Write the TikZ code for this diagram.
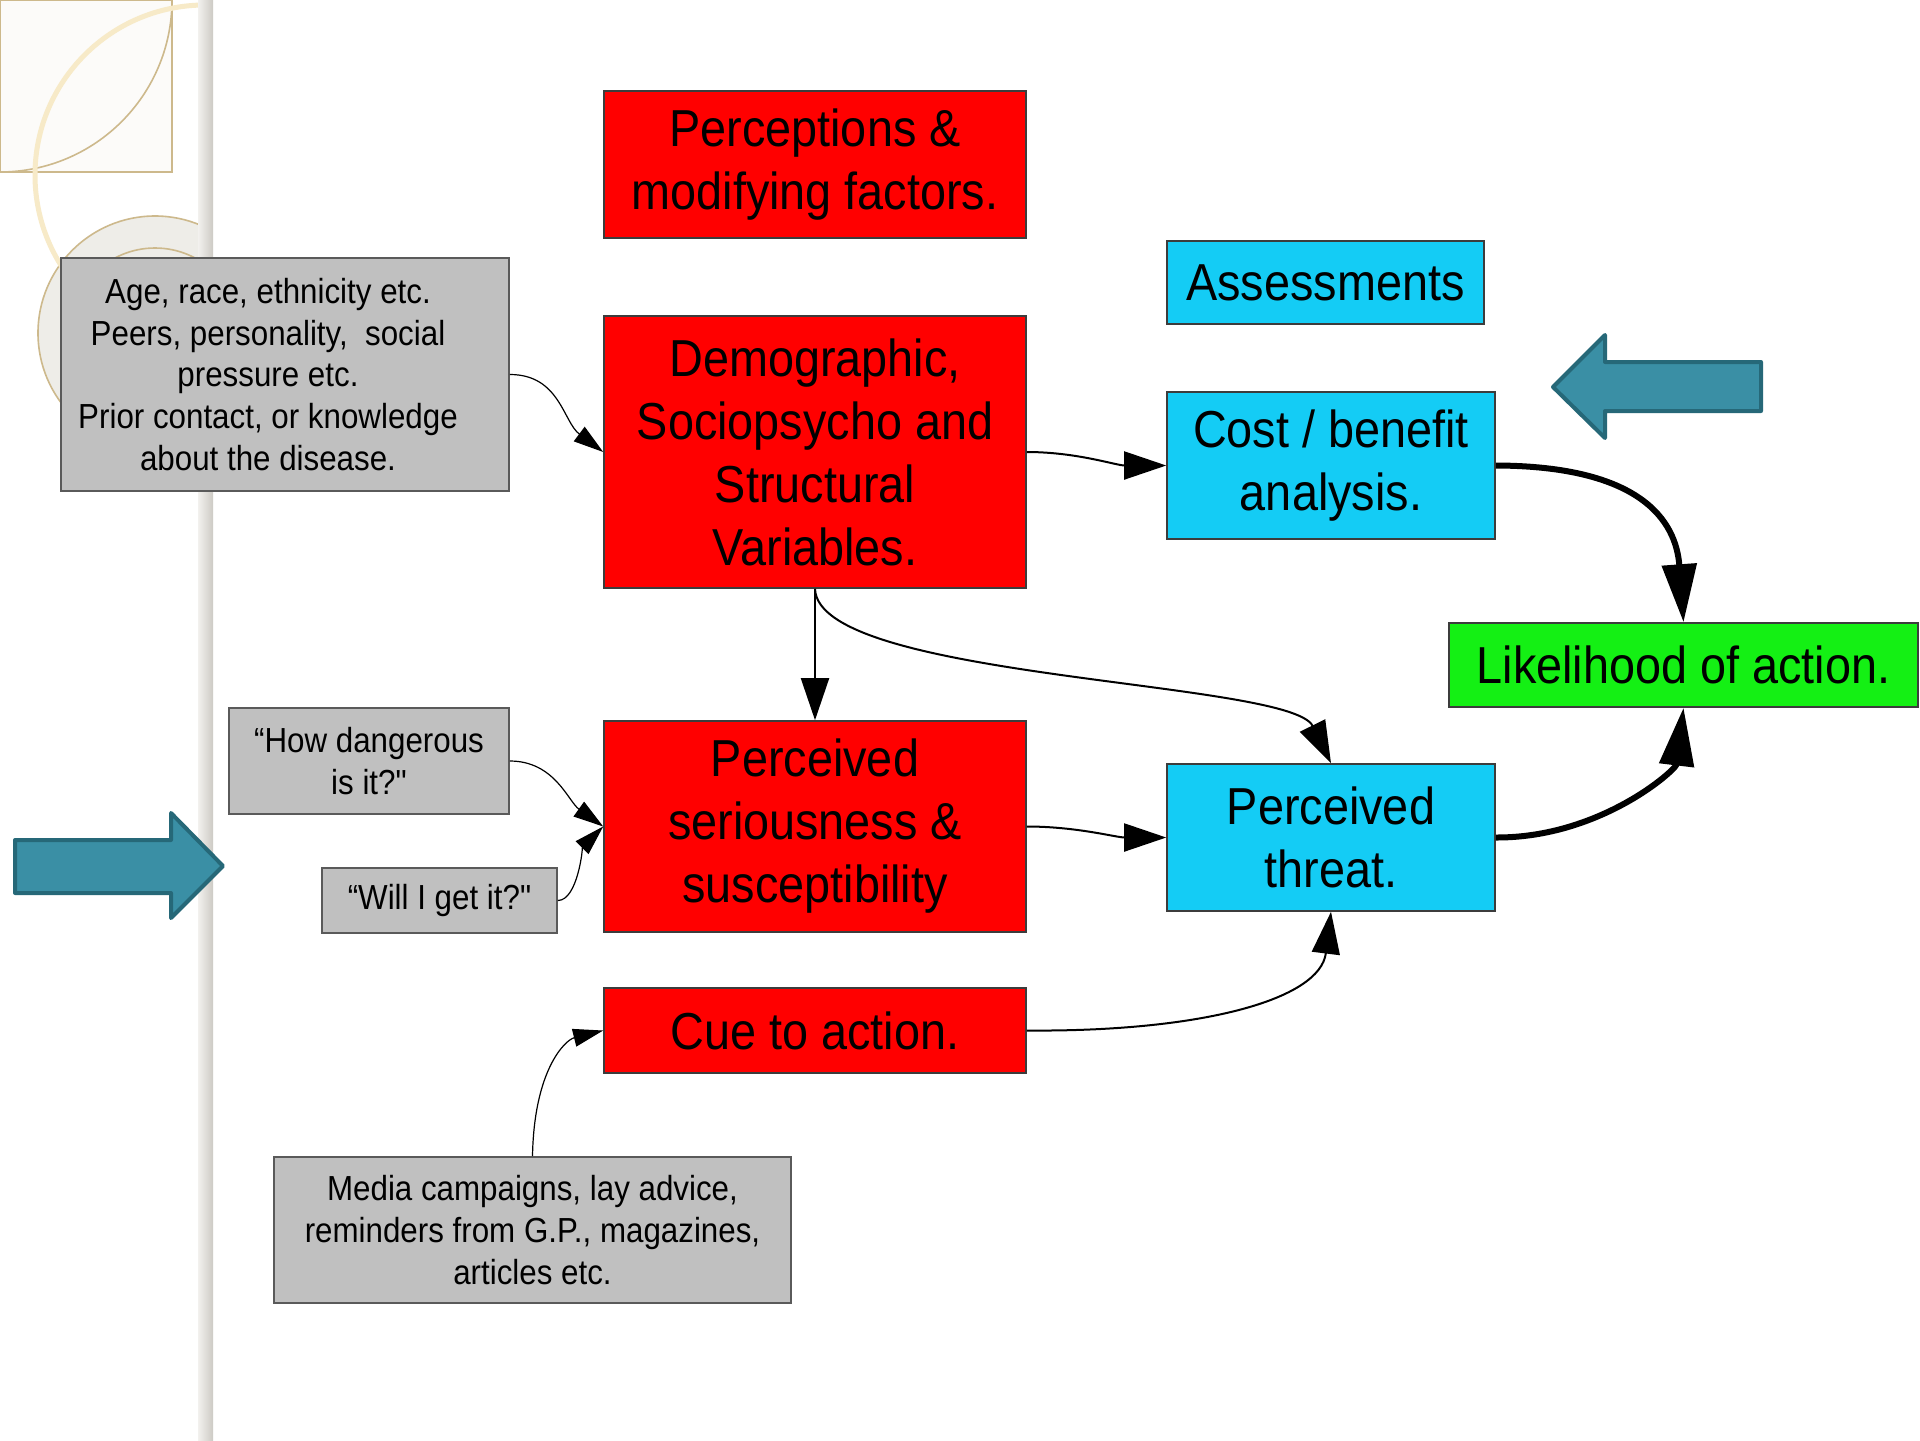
\documentclass[tikz,border=0pt]{standalone}
\usepackage{fontspec}
\setmainfont{Liberation Sans}[FakeStretch=0.9]
% same face without the TeX mapping, so that " stays a straight quote
\newfontfamily\straightq{Liberation Sans}[FakeStretch=0.9]
\newcommand{\dq}{{\straightq"}}
\usetikzlibrary{arrows.meta}

\definecolor{boxred}{RGB}{255,0,0}
\definecolor{boxcyan}{RGB}{20,204,245}
\definecolor{boxgreen}{RGB}{20,240,20}
\definecolor{boxgray}{RGB}{192,192,192}
\definecolor{boxline}{RGB}{60,60,60}
\definecolor{grayline}{RGB}{90,90,90}
\definecolor{tealfill}{RGB}{58,143,165}
\definecolor{tealline}{RGB}{38,104,120}
\definecolor{tanline}{RGB}{205,185,140}
\definecolor{creamarc}{RGB}{247,234,200}
\definecolor{ringfill}{RGB}{238,237,232}
\definecolor{cornerfill}{RGB}{252,251,249}
\definecolor{stripA}{RGB}{242,241,238}
\definecolor{stripB}{RGB}{205,202,196}

\begin{document}
\begin{tikzpicture}[x=0.5pt,y=-0.5pt,
  box/.style={draw=boxline, line width=0.8pt, align=center, inner sep=2pt, text=black},
  bigtext/.style={font=\fontsize{26}{31.5}\selectfont},
  smalltext/.style={font=\fontsize{17.4}{20.8}\selectfont},
  redbox/.style={box, bigtext, fill=boxred},
  cyanbox/.style={box, bigtext, fill=boxcyan},
  greenbox/.style={box, bigtext, fill=boxgreen},
  graybox/.style={box, smalltext, fill=boxgray, draw=grayline},
  mainarr/.style={line width=1pt, -{Triangle[length=21pt,width=14pt]}},
  grayarr/.style={line width=0.6pt, -{Triangle[length=15pt,width=9pt]}},
  thickarr/.style={line width=3pt, -{Triangle[length=29pt,width=17pt]}},
  tealarrow/.style={fill=tealfill, draw=tealline, line width=2pt, line join=round},
]
\useasboundingbox (0,0) rectangle (1920,1440);
\fill[white] (0,0) rectangle (1920,1440);

% ornament of the left panel
\begin{scope}
  \clip (0,0) rectangle (212,1440);
  \fill[cornerfill, draw=tanline, line width=0.8pt] (0,0) rectangle (172,172);
  \begin{scope}
    \clip (0,0) rectangle (172,172);
    \draw[tanline, line width=0.8pt] (0,0) circle[radius=86pt];
  \end{scope}
  \draw[tanline, fill=ringfill, line width=0.8pt] (155,333) circle[radius=58.5pt];
  \draw[tanline, line width=0.8pt] (155,333) circle[radius=42.5pt];
  \draw[creamarc, line width=2.5pt] (205,175) circle[radius=85pt];
\end{scope}
\shade[left color=stripA, right color=stripB] (198,0) rectangle (213,1440);

% teal pointer arrows
\draw[tealarrow] (15,840) -- (171,840) -- (171,813) -- (223,866) -- (171,918)
  -- (171,893) -- (15,893) -- cycle;
\draw[tealarrow] (1761,362) -- (1605,362) -- (1605,335) -- (1553,387) -- (1605,438)
  -- (1605,411) -- (1761,411) -- cycle;

% boxes
\node[redbox, minimum width=211pt, minimum height=73.5pt] (percep) at (815,164.5)
  {Perceptions \&\\modifying factors.};
\node[cyanbox, minimum width=158.5pt, minimum height=41.5pt] (assess) at (1325.5,282.5)
  {Assessments};
\node[graybox, minimum width=224pt, minimum height=116.5pt] (age) at (285,374.5) {};
\node[smalltext, align=center, inner sep=0pt] (agetext) at (268,374.5)
  {Age, race, ethnicity etc.\\Peers, personality,\ \ social\\pressure etc.\\Prior contact, or knowledge\\about the disease.};
\node[redbox, minimum width=211pt, minimum height=136pt] (demo) at (815,452)
  {Demographic,\\Sociopsycho and\\Structural\\Variables.};
\node[cyanbox, minimum width=164pt, minimum height=73.5pt] (cost) at (1331,465.5)
  {Cost / benefit\\analysis.};
\node[greenbox, minimum width=234.5pt, minimum height=42pt] (likely) at (1683.5,665)
  {Likelihood of action.};
\node[graybox, minimum width=140pt, minimum height=53pt] (danger) at (369,761)
  {“How dangerous\\is it?\dq};
\node[graybox, minimum width=117.5pt, minimum height=32.5pt] (will) at (439.5,900.5)
  {“Will I get it?\dq};
\node[redbox, minimum width=211pt, minimum height=105.5pt] (serious) at (815,826.5)
  {Perceived\\seriousness \&\\susceptibility};
\node[cyanbox, minimum width=164pt, minimum height=73.5pt] (threat) at (1331,837.5)
  {Perceived\\threat.};
\node[redbox, minimum width=211pt, minimum height=42.5pt] (cue) at (815,1030.5)
  {Cue to action.};
\node[graybox, minimum width=258.5pt, minimum height=73pt] (media) at (532.5,1230)
  {Media campaigns, lay advice,\\reminders from G.P., magazines,\\articles etc.};

% connectors
\draw[grayarr] (age.east) .. controls +(50,0) and +(-40,-30) .. (demo.west);
\draw[mainarr] (demo.east) .. controls +(50,0) and +(-50,0) .. (cost.west);
\draw[mainarr] (demo.south) -- (serious.north);
\draw[mainarr] (demo.south) .. controls (818,680) and (1290,680) .. (threat.north);
\draw[grayarr] (danger.east) .. controls +(45,0) and +(-35,-25) .. (serious.west);
\draw[grayarr] (will.east) .. controls +(20,0) and +(-20,20) .. (serious.west);
\draw[mainarr] (serious.east) .. controls +(50,0) and +(-50,0) .. (threat.west);
\draw[mainarr] (cue.east) .. controls (1200,1032) and (1320,1000) .. (threat.south);
\draw[grayarr] (media.north) .. controls (534,1070) and (565,1040) .. (cue.west);
\draw[thickarr] (cost.east) .. controls (1640,466) and (1676,520) .. (likely.north);
\draw[thickarr] (threat.east) .. controls (1600,838) and (1676,770) .. (likely.south);
\end{tikzpicture}
\end{document}
